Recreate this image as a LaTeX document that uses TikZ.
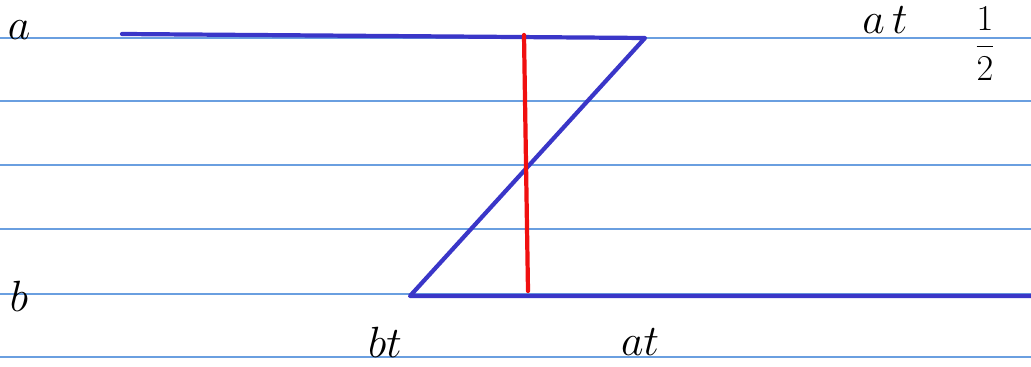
\documentclass[tikz,border=0pt]{standalone}
\usepackage{xcolor}
\usepackage{amsmath}
\usepackage{tikz}
\definecolor{ruleblue}{HTML}{6A9FE0}
\definecolor{penblue}{HTML}{3A36C8}
\definecolor{penred}{HTML}{F01010}
\tikzset{
	hand/.style={font=\fontsize{30}{32}\selectfont, inner sep=0pt},
	pen/.style={line width=2.4pt, line cap=round, line join=round}
}

\begin{document}
\begin{tikzpicture}[x=0.02cm, y=-0.02cm]
			\useasboundingbox (0,0) rectangle (1031,367);
			% ruled paper
			\foreach \r in {38, 101, 165, 229, 294, 357} {
				\draw[color=ruleblue, line width=0.6pt] (0,\r) -- (1031,\r);
			}
			\coordinate (aStart) at (122,34);
			\coordinate (aEnd) at (645,38);
			\coordinate (bStart) at (410,296);
			\coordinate (bEnd) at (1031,296);
			\coordinate (redTop) at (524,35);
			\coordinate (redBot) at (528,291);
			\draw[pen, color=penblue] (aStart) -- (aEnd) -- (bStart) -- (bEnd);
			\draw[pen, color=penred] (redTop) -- (redBot);
			\node[hand] (la) at (19,30) {$a$};
			\node[hand] (lb) at (19,296) {$b$};
			\node[hand] (lbt) at (385,342) {$bt$};
			\node[hand] (lat) at (640,342) {$at$};
			\node[hand] (latTop) at (885,20) {$a\,t$};
			\node[hand, font=\fontsize{21}{23}\selectfont] (lhalf) at (985,44) {$\dfrac{1}{2}$};
			\node[hand, anchor=west] (lparen) at (1028,40) {$($};
		\end{tikzpicture}
\end{document}
